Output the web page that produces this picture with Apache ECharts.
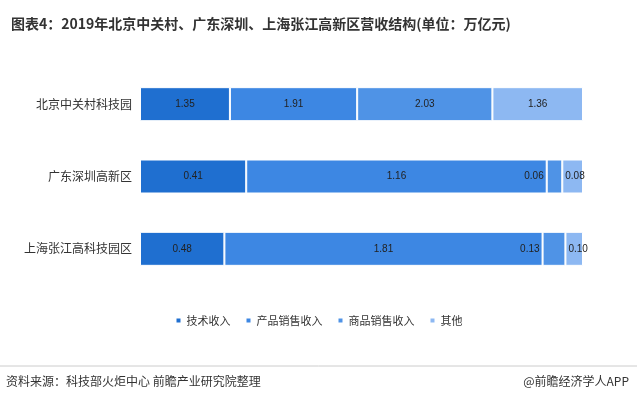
<!DOCTYPE html>
<html><head><meta charset="utf-8">
<script src="https://cdn.jsdelivr.net/npm/echarts@6/dist/echarts.min.js"></script>
<style>body{margin:0}#c{width:637px;height:403px}</style></head>
<body><div id="c"></div>
<script>
var categories = ['上海张江高科技园区', '广东深圳高新区', '北京中关村科技园'];
var seriesNames = ['技术收入', '产品销售收入', '商品销售收入', '其他'];
var tech = [0.48, 0.41, 1.35];
var product = [1.81, 1.16, 1.91];
var goods = [0.13, 0.06, 2.03];
var other = [0.10, 0.08, 1.36];
var colors = ['#1f6fd0', '#3d87e3', '#4f93e6', '#8db8f2'];

var all = [tech, product, goods, other];
var totals = categories.map(function(c, i){ return tech[i] + product[i] + goods[i] + other[i]; });
var smallPos = ['inside', 'inside', 'left', 'insideLeft'];

var chart = echarts.init(document.getElementById('c'));
chart.setOption({
    title: {
        text: '图表4：2019年北京中关村、广东深圳、上海张江高新区营收结构(单位：万亿元)',
        left: 6, top: 12,
        textStyle: {fontSize: 14, fontWeight: 'bold', color: '#333', fontFamily: 'Noto Sans CJK SC'}
    },
    legend: {
        bottom: 72, itemWidth: 6, itemHeight: 6, icon: 'rect', itemGap: 14,
        textStyle: {fontSize: 11, color: '#333', fontFamily: 'Noto Sans CJK SC'}
    },
    grid: {left: 140, right: 54, top: 68, bottom: 118},
    xAxis: {type: 'value', max: 100, show: false},
    yAxis: {
        type: 'category', data: categories,
        axisLine: {show: false}, axisTick: {show: false},
        axisLabel: {fontSize: 12, color: '#333', fontFamily: 'Noto Sans CJK SC', margin: 8}
    },
    series: all.map(function(arr, k){
        return {
            name: seriesNames[k], type: 'bar', stack: 'a', barWidth: 34,
            itemStyle: {color: colors[k], borderColor: '#fff', borderWidth: 1},
            label: {show: true, position: 'inside', color: '#222', fontSize: 10,
                formatter: function(p){ return arr[p.dataIndex].toFixed(2); }},
            data: arr.map(function(v, i){
                var d = {value: v / totals[i] * 100};
                if (d.value < 6) d.label = {position: smallPos[k], distance: 3};
                return d;
            })
        };
    }),
    graphic: [
        {type: 'line', shape: {x1: 0, y1: 366, x2: 637, y2: 366}, style: {stroke: '#ccc', lineWidth: 1}},
        {type: 'text', left: 6, top: 375, style: {text: '资料来源：科技部火炬中心 前瞻产业研究院整理', fontSize: 12, fill: '#333', fontFamily: 'Noto Sans CJK SC'}},
        {type: 'text', right: 8, top: 375, style: {text: '@前瞻经济学人APP', fontSize: 12, fill: '#333', fontFamily: 'Noto Sans CJK SC'}}
    ]
});
</script></body></html>
